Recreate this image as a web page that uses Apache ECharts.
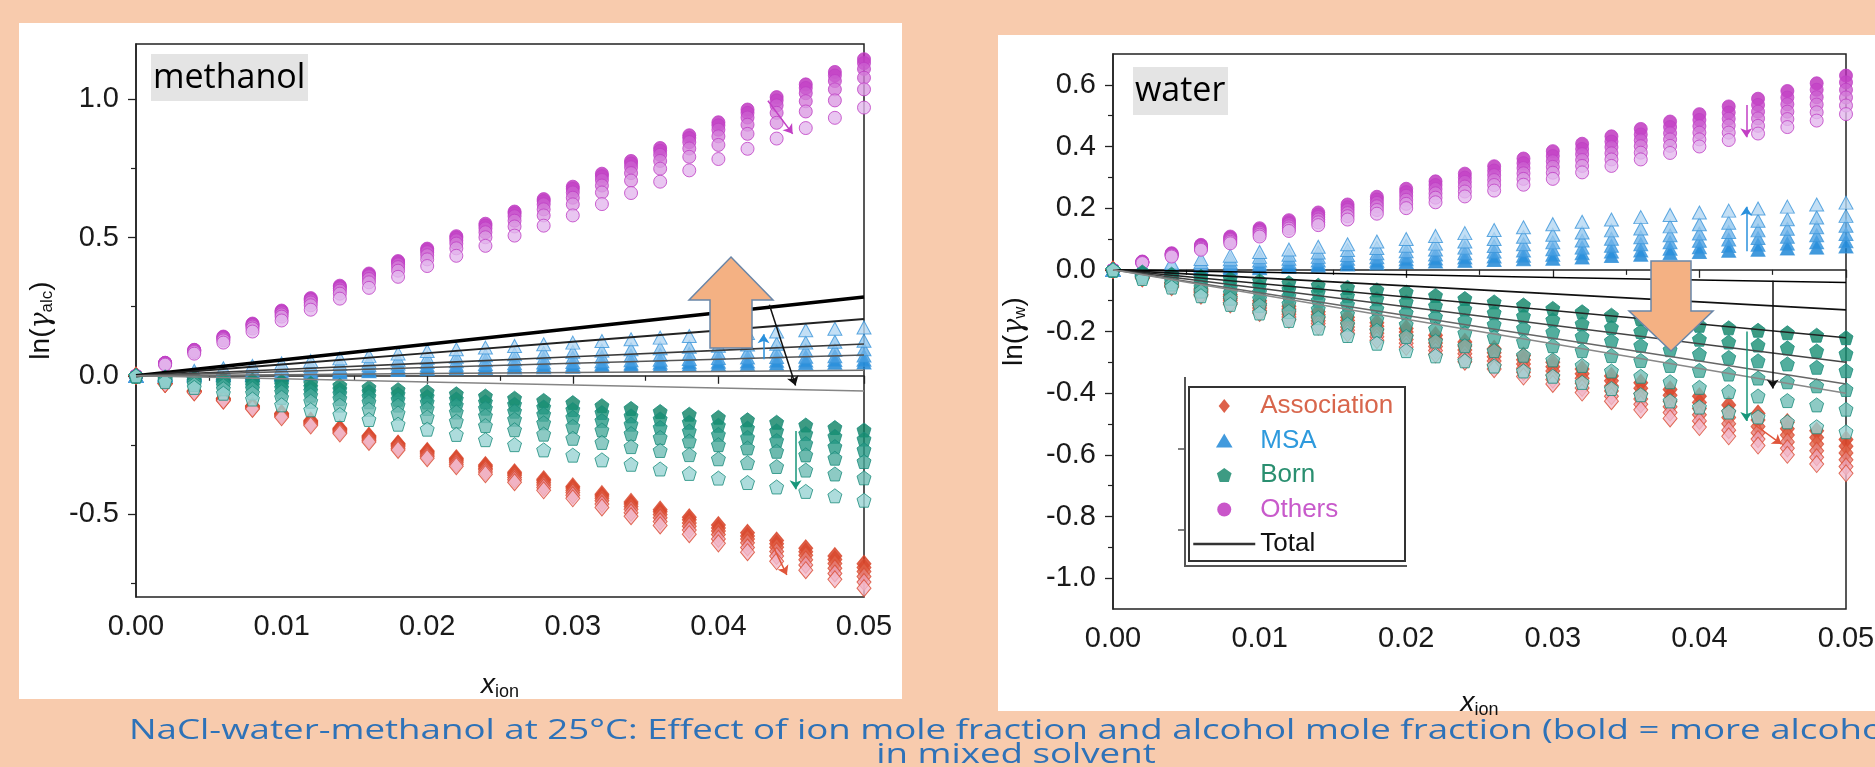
<!DOCTYPE html>
<html>
<head>
<meta charset="utf-8">
<script src="https://cdn.jsdelivr.net/npm/echarts@6/dist/echarts.min.js"></script>
<style>html,body{margin:0;padding:0;background:#F8CBAD;}#c{width:1875px;height:767px;}</style>
</head>
<body>
<div id="c"></div>
<script>
// ---------------- data ----------------
const xIon = [0,0.002,0.004,0.006,0.008,0.010,0.012,0.014,0.016,0.018,0.020,0.022,0.024,0.026,0.028,0.030,0.032,0.034,0.036,0.038,0.040,0.042,0.044,0.046,0.048,0.050];
const xTotal = [0,0.01,0.02,0.03,0.04,0.05];
const xTickLabels = ['0.00','0.01','0.02','0.03','0.04','0.05'];
const yTicksMeth = [-0.5,0,0.5,1.0];
const yMinorMeth = [-0.75,-0.25,0.25,0.75];
const yTicksWat = [-1.0,-0.8,-0.6,-0.4,-0.2,0,0.2,0.4,0.6];
const yMinorWat = [-0.9,-0.7,-0.5,-0.3,-0.1,0.1,0.3,0.5];

// methanol panel: ln(gamma_alc); levels ordered from most alcohol (bold) to least
const methAssoc = [
 [0,-0.027,-0.054,-0.081,-0.108,-0.135,-0.162,-0.190,-0.217,-0.245,-0.272,-0.298,-0.323,-0.349,-0.374,-0.400,-0.428,-0.456,-0.484,-0.512,-0.540,-0.568,-0.596,-0.624,-0.652,-0.680],
 [0,-0.027,-0.055,-0.082,-0.110,-0.137,-0.165,-0.193,-0.220,-0.248,-0.276,-0.302,-0.328,-0.354,-0.380,-0.406,-0.435,-0.464,-0.492,-0.521,-0.550,-0.579,-0.607,-0.636,-0.664,-0.693],
 [0,-0.028,-0.056,-0.084,-0.112,-0.140,-0.168,-0.196,-0.224,-0.252,-0.280,-0.307,-0.334,-0.360,-0.387,-0.414,-0.443,-0.473,-0.502,-0.532,-0.561,-0.590,-0.620,-0.649,-0.679,-0.708],
 [0,-0.029,-0.057,-0.086,-0.114,-0.143,-0.172,-0.200,-0.229,-0.257,-0.286,-0.313,-0.340,-0.368,-0.395,-0.422,-0.452,-0.483,-0.513,-0.544,-0.574,-0.604,-0.635,-0.665,-0.696,-0.726],
 [0,-0.029,-0.058,-0.088,-0.117,-0.146,-0.175,-0.204,-0.234,-0.263,-0.292,-0.320,-0.348,-0.376,-0.404,-0.432,-0.464,-0.495,-0.527,-0.558,-0.590,-0.621,-0.652,-0.684,-0.715,-0.746],
 [0,-0.030,-0.060,-0.090,-0.120,-0.150,-0.180,-0.209,-0.239,-0.268,-0.298,-0.327,-0.356,-0.385,-0.414,-0.443,-0.476,-0.508,-0.541,-0.573,-0.606,-0.638,-0.671,-0.703,-0.736,-0.768]
];
const methMSA = [
 [0,0.001,0.001,0.002,0.002,0.003,0.007,0.012,0.016,0.021,0.025,0.027,0.028,0.030,0.031,0.033,0.035,0.037,0.038,0.040,0.042,0.043,0.044,0.046,0.047,0.048],
 [0,0.001,0.002,0.004,0.005,0.006,0.011,0.016,0.020,0.025,0.030,0.032,0.034,0.036,0.038,0.040,0.042,0.044,0.047,0.049,0.051,0.052,0.054,0.055,0.057,0.058],
 [0,0.002,0.004,0.007,0.009,0.011,0.016,0.022,0.027,0.033,0.038,0.040,0.043,0.045,0.048,0.050,0.053,0.056,0.058,0.061,0.064,0.066,0.068,0.069,0.071,0.073],
 [0,0.004,0.008,0.011,0.015,0.019,0.025,0.031,0.038,0.044,0.050,0.053,0.056,0.060,0.063,0.066,0.069,0.073,0.076,0.080,0.083,0.086,0.088,0.091,0.093,0.096],
 [0,0.006,0.012,0.017,0.023,0.029,0.036,0.043,0.051,0.058,0.065,0.069,0.074,0.078,0.083,0.087,0.091,0.096,0.100,0.105,0.109,0.113,0.116,0.120,0.123,0.127],
 [0,0.009,0.018,0.027,0.036,0.045,0.054,0.063,0.072,0.081,0.090,0.096,0.102,0.108,0.114,0.120,0.126,0.132,0.138,0.144,0.150,0.155,0.160,0.165,0.170,0.175]
];
const methBorn = [
 [0,-0.004,-0.008,-0.012,-0.016,-0.020,-0.027,-0.035,-0.042,-0.050,-0.057,-0.065,-0.073,-0.081,-0.089,-0.097,-0.108,-0.118,-0.129,-0.139,-0.150,-0.159,-0.168,-0.178,-0.187,-0.196],
 [0,-0.006,-0.012,-0.019,-0.025,-0.031,-0.040,-0.049,-0.057,-0.066,-0.075,-0.084,-0.094,-0.103,-0.113,-0.122,-0.133,-0.145,-0.156,-0.168,-0.179,-0.189,-0.199,-0.209,-0.219,-0.229],
 [0,-0.009,-0.018,-0.026,-0.035,-0.044,-0.054,-0.064,-0.075,-0.085,-0.095,-0.106,-0.117,-0.128,-0.139,-0.150,-0.162,-0.175,-0.187,-0.200,-0.212,-0.223,-0.234,-0.245,-0.256,-0.267],
 [0,-0.012,-0.023,-0.035,-0.046,-0.058,-0.070,-0.082,-0.094,-0.106,-0.118,-0.131,-0.144,-0.157,-0.170,-0.183,-0.196,-0.209,-0.223,-0.236,-0.249,-0.261,-0.273,-0.286,-0.298,-0.310],
 [0,-0.016,-0.031,-0.047,-0.062,-0.078,-0.092,-0.106,-0.121,-0.135,-0.149,-0.164,-0.180,-0.195,-0.211,-0.226,-0.241,-0.256,-0.270,-0.285,-0.300,-0.314,-0.328,-0.341,-0.355,-0.369],
 [0,-0.021,-0.042,-0.063,-0.084,-0.105,-0.123,-0.140,-0.158,-0.175,-0.193,-0.212,-0.231,-0.249,-0.268,-0.287,-0.304,-0.320,-0.337,-0.353,-0.370,-0.386,-0.402,-0.418,-0.434,-0.450]
];
const methOthers = [
 [0,0.047,0.094,0.142,0.189,0.236,0.281,0.326,0.370,0.415,0.460,0.505,0.550,0.594,0.639,0.684,0.731,0.777,0.824,0.870,0.917,0.963,1.008,1.054,1.099,1.145],
 [0,0.047,0.093,0.140,0.186,0.233,0.277,0.322,0.366,0.411,0.455,0.499,0.543,0.588,0.632,0.676,0.722,0.768,0.814,0.860,0.906,0.951,0.996,1.041,1.086,1.131],
 [0,0.046,0.092,0.137,0.183,0.229,0.273,0.316,0.360,0.403,0.447,0.490,0.533,0.577,0.620,0.663,0.708,0.754,0.799,0.845,0.890,0.934,0.978,1.022,1.066,1.110],
 [0,0.044,0.089,0.133,0.178,0.222,0.265,0.308,0.350,0.393,0.436,0.478,0.519,0.561,0.602,0.644,0.688,0.733,0.777,0.822,0.866,0.908,0.951,0.993,1.036,1.078],
 [0,0.043,0.086,0.128,0.171,0.214,0.255,0.297,0.338,0.380,0.421,0.461,0.501,0.540,0.580,0.620,0.663,0.706,0.749,0.792,0.835,0.875,0.915,0.956,0.996,1.036],
 [0,0.040,0.080,0.120,0.160,0.200,0.239,0.279,0.318,0.358,0.397,0.434,0.470,0.507,0.543,0.580,0.621,0.661,0.702,0.743,0.784,0.821,0.858,0.896,0.933,0.970]
];
const methTotal = [
 [0,0.057,0.114,0.171,0.228,0.285],
 [0,0.041,0.082,0.123,0.164,0.205],
 [0,0.023,0.046,0.069,0.092,0.115],
 [0,0.015,0.030,0.045,0.060,0.075],
 [0,0.004,0.008,0.012,0.016,0.020],
 [0,-0.011,-0.022,-0.033,-0.044,-0.055]
];

// water panel: ln(gamma_w)
const watAssoc = [
 [0,-0.020,-0.040,-0.060,-0.080,-0.100,-0.118,-0.136,-0.154,-0.172,-0.190,-0.212,-0.234,-0.256,-0.278,-0.300,-0.322,-0.344,-0.366,-0.388,-0.410,-0.438,-0.466,-0.494,-0.522,-0.550],
 [0,-0.022,-0.043,-0.065,-0.086,-0.108,-0.127,-0.146,-0.164,-0.183,-0.202,-0.224,-0.247,-0.269,-0.292,-0.314,-0.337,-0.360,-0.384,-0.407,-0.430,-0.458,-0.487,-0.515,-0.544,-0.572],
 [0,-0.023,-0.046,-0.070,-0.093,-0.116,-0.136,-0.155,-0.175,-0.194,-0.214,-0.237,-0.260,-0.282,-0.305,-0.328,-0.352,-0.377,-0.401,-0.426,-0.450,-0.479,-0.508,-0.536,-0.565,-0.594],
 [0,-0.025,-0.050,-0.074,-0.099,-0.124,-0.144,-0.165,-0.185,-0.206,-0.226,-0.249,-0.272,-0.296,-0.319,-0.342,-0.368,-0.393,-0.419,-0.444,-0.470,-0.499,-0.528,-0.558,-0.587,-0.616],
 [0,-0.026,-0.053,-0.079,-0.106,-0.132,-0.153,-0.174,-0.196,-0.217,-0.238,-0.262,-0.285,-0.309,-0.332,-0.356,-0.383,-0.410,-0.436,-0.463,-0.490,-0.520,-0.549,-0.579,-0.608,-0.638],
 [0,-0.028,-0.056,-0.084,-0.112,-0.140,-0.162,-0.184,-0.206,-0.228,-0.250,-0.274,-0.298,-0.322,-0.346,-0.370,-0.398,-0.426,-0.454,-0.482,-0.510,-0.540,-0.570,-0.600,-0.630,-0.660]
];
const watMSA = [
 [0,0.001,0.002,0.003,0.004,0.005,0.009,0.013,0.017,0.021,0.025,0.027,0.029,0.032,0.034,0.036,0.040,0.045,0.049,0.054,0.058,0.062,0.065,0.069,0.072,0.076],
 [0,0.002,0.004,0.007,0.009,0.011,0.016,0.020,0.025,0.029,0.034,0.037,0.040,0.043,0.046,0.049,0.054,0.059,0.063,0.068,0.073,0.077,0.081,0.085,0.089,0.093],
 [0,0.004,0.008,0.012,0.016,0.020,0.025,0.030,0.036,0.041,0.046,0.050,0.054,0.059,0.063,0.067,0.072,0.078,0.083,0.089,0.094,0.098,0.103,0.107,0.112,0.116],
 [0,0.006,0.012,0.018,0.024,0.030,0.036,0.042,0.048,0.054,0.060,0.066,0.072,0.077,0.083,0.089,0.095,0.101,0.106,0.112,0.118,0.123,0.128,0.133,0.138,0.143],
 [0,0.008,0.017,0.025,0.034,0.042,0.049,0.056,0.064,0.071,0.078,0.085,0.092,0.100,0.107,0.114,0.121,0.128,0.134,0.141,0.148,0.153,0.159,0.164,0.170,0.175],
 [0,0.012,0.023,0.035,0.046,0.058,0.066,0.075,0.083,0.092,0.100,0.110,0.119,0.129,0.138,0.148,0.156,0.163,0.171,0.178,0.186,0.192,0.199,0.205,0.212,0.218]
];
const watBorn = [
 [0,-0.007,-0.014,-0.021,-0.028,-0.035,-0.042,-0.050,-0.057,-0.065,-0.072,-0.083,-0.093,-0.104,-0.114,-0.125,-0.136,-0.147,-0.158,-0.169,-0.180,-0.188,-0.196,-0.204,-0.212,-0.220],
 [0,-0.011,-0.021,-0.032,-0.042,-0.053,-0.063,-0.073,-0.084,-0.094,-0.104,-0.116,-0.127,-0.139,-0.150,-0.162,-0.175,-0.187,-0.200,-0.212,-0.225,-0.234,-0.244,-0.253,-0.263,-0.272],
 [0,-0.014,-0.029,-0.043,-0.058,-0.072,-0.085,-0.099,-0.112,-0.126,-0.139,-0.152,-0.164,-0.177,-0.189,-0.202,-0.216,-0.230,-0.245,-0.259,-0.273,-0.284,-0.295,-0.305,-0.316,-0.327],
 [0,-0.019,-0.037,-0.056,-0.074,-0.093,-0.110,-0.127,-0.143,-0.160,-0.177,-0.191,-0.205,-0.218,-0.232,-0.246,-0.262,-0.278,-0.294,-0.310,-0.326,-0.338,-0.351,-0.363,-0.376,-0.388],
 [0,-0.023,-0.046,-0.069,-0.092,-0.115,-0.135,-0.155,-0.176,-0.196,-0.216,-0.231,-0.246,-0.262,-0.277,-0.292,-0.310,-0.328,-0.345,-0.363,-0.381,-0.395,-0.409,-0.424,-0.438,-0.452],
 [0,-0.028,-0.056,-0.084,-0.112,-0.140,-0.164,-0.189,-0.213,-0.238,-0.262,-0.279,-0.295,-0.312,-0.328,-0.345,-0.365,-0.385,-0.405,-0.425,-0.445,-0.461,-0.477,-0.493,-0.509,-0.525]
];
const watOthers = [
 [0,0.027,0.054,0.081,0.108,0.135,0.161,0.186,0.212,0.237,0.263,0.287,0.312,0.336,0.361,0.385,0.409,0.433,0.457,0.481,0.505,0.530,0.555,0.580,0.605,0.630],
 [0,0.026,0.052,0.078,0.104,0.130,0.154,0.179,0.203,0.228,0.252,0.275,0.299,0.322,0.346,0.369,0.392,0.416,0.439,0.463,0.486,0.510,0.535,0.559,0.584,0.608],
 [0,0.025,0.050,0.075,0.100,0.125,0.148,0.171,0.194,0.217,0.240,0.262,0.285,0.307,0.330,0.352,0.375,0.398,0.420,0.443,0.466,0.490,0.513,0.537,0.560,0.584],
 [0,0.024,0.048,0.072,0.096,0.120,0.141,0.163,0.184,0.206,0.227,0.248,0.270,0.291,0.313,0.334,0.356,0.378,0.401,0.423,0.445,0.468,0.491,0.513,0.536,0.559],
 [0,0.023,0.046,0.068,0.091,0.114,0.134,0.154,0.174,0.194,0.214,0.234,0.254,0.275,0.295,0.315,0.337,0.358,0.380,0.402,0.423,0.445,0.467,0.489,0.511,0.533],
 [0,0.022,0.043,0.065,0.086,0.108,0.126,0.145,0.163,0.182,0.200,0.219,0.238,0.257,0.276,0.295,0.316,0.337,0.358,0.379,0.400,0.421,0.442,0.463,0.484,0.505]
];
const watTotal = [
 [0,-0.008,-0.016,-0.025,-0.033,-0.041],
 [0,-0.026,-0.052,-0.078,-0.104,-0.130],
 [0,-0.044,-0.088,-0.132,-0.176,-0.220],
 [0,-0.060,-0.120,-0.180,-0.240,-0.300],
 [0,-0.074,-0.148,-0.222,-0.296,-0.370],
 [0,-0.080,-0.160,-0.240,-0.320,-0.400]
];
const legendNames = ['Association','MSA','Born','Others','Total'];

// ---------------- styles ----------------
const PENT = 'path://M0,-10L9.5,-3.1L5.9,8.1L-5.9,8.1L-9.5,-3.1Z';
const DIAM = 'path://M0,-10L8,0L0,10L-8,0Z';
const TRI = 'path://M0,-9L9.5,7L-9.5,7Z';
const CIRC = 'path://M10,0A10,10,0,1,1,-10,0A10,10,0,1,1,10,0Z';
const assocFill = ['#D5391D','#DA4A2E','#DF6148','#E57F7A','#EC9FB0','#F2BACC'];
const msaFill   = ['#1381D5','#288EDC','#479FE2','#6CB1E8','#91C5EE','#B4D7F3'];
const bornFill  = ['#0D8264','#168E73','#289A86','#48A99A','#70BDB5','#99D3D3'];
const othFill   = ['#BC2CBC','#C444C7','#CB5FCF','#D37DD8','#DB9BE2','#E4B8EE'];
const totMeth = [{c:'#000',w:3.6},{c:'#222',w:2},{c:'#3a3a3a',w:1.6},{c:'#555',w:1.5},{c:'#6e6e6e',w:1.5},{c:'#858585',w:1.5}];
const totWat  = [{c:'#000',w:1.6},{c:'#111',w:1.6},{c:'#222',w:1.5},{c:'#444',w:1.5},{c:'#666',w:1.5},{c:'#888',w:1.5}];

const series = [];
function addScatter(name, levels, g, symbol, size, fills, border, z) {
  levels.forEach((lv, k) => {
    series.push({
      type: 'scatter', name, xAxisIndex: g, yAxisIndex: g * 2,
      symbol, symbolSize: size, z: z,
      itemStyle: { color: fills[k], borderColor: border, borderWidth: 1 },
      emphasis: { disabled: true },
      data: lv.map((v, i) => [xIon[i], v])
    });
  });
}
addScatter('Association', methAssoc, 0, 'diamond', [14, 17], assocFill, '#D94A30', 2);
addScatter('MSA', methMSA, 0, 'triangle', [14, 13], msaFill, '#3A95DA', 3);
addScatter('Born', methBorn, 0, PENT, 14, bornFill, '#1A8C7C', 5);
addScatter('Others', methOthers, 0, 'circle', 13, othFill, '#BF3FC4', 4);
addScatter('Association', watAssoc, 1, 'diamond', [14, 17], assocFill, '#D94A30', 2);
addScatter('MSA', watMSA, 1, 'triangle', [14, 13], msaFill, '#3A95DA', 3);
addScatter('Born', watBorn, 1, PENT, 14, bornFill, '#1A8C7C', 5);
addScatter('Others', watOthers, 1, 'circle', 13, othFill, '#BF3FC4', 4);

function arrow(p1, p2, color, curv) {
  return [{ coord: p1, lineStyle: { color: color, width: 1.5, curveness: curv || 0, type: 'solid' } }, { coord: p2 }];
}
const methArrows = [
  arrow([0.0434, 0.995], [0.0451, 0.875], '#C23FC4', 0.45),
  arrow([0.0431, 0.06], [0.0431, 0.15], '#2A90DC', 0),
  arrow([0.0435, 0.257], [0.0453, -0.035], '#111', -0.3),
  arrow([0.0453, -0.2], [0.0453, -0.41], '#17967A', 0),
  arrow([0.0436, -0.6], [0.0447, -0.72], '#E0553A', 0.6)
];
const watArrows = [
  arrow([0.0432, 0.535], [0.0432, 0.43], '#C23FC4', 0),
  arrow([0.0432, 0.06], [0.0432, 0.205], '#2A90DC', 0),
  arrow([0.0450, -0.035], [0.0450, -0.385], '#111', 0),
  arrow([0.0432, -0.2], [0.0432, -0.49], '#17967A', 0),
  arrow([0.0437, -0.5], [0.0456, -0.565], '#E0553A', 0.6)
];

function addTotals(lines, g, styles, arrows) {
  lines.forEach((lv, k) => {
    const s = {
      type: 'line', name: 'Total', xAxisIndex: g, yAxisIndex: g * 2,
      showSymbol: false, symbol: 'none', z: 6, silent: true,
      lineStyle: { color: styles[k].c, width: styles[k].w },
      itemStyle: { color: '#333' },
      emphasis: { disabled: true },
      data: lv.map((v, i) => [xTotal[i], v])
    };
    if (k === 0) {
      s.markLine = { silent: true, symbol: ['none', 'arrow'], symbolSize: 9, label: { show: false },
        emphasis: { disabled: true }, animation: false, data: arrows, z: 7 };
    }
    series.push(s);
  });
}
addTotals(methTotal, 0, totMeth, methArrows);
addTotals(watTotal, 1, totWat, watArrows);

const AX = '#222';
const labelFont = { fontFamily: 'Liberation Sans', fontSize: 29, color: '#1a1a1a' };
function xAxisCfg(g, nameGap) {
  return {
    type: 'value', gridIndex: g, min: 0, max: 0.05, interval: 0.01,
    axisLine: { show: true, lineStyle: { color: AX, width: 1.5 } },
    axisTick: { show: true, inside: false, length: 8, lineStyle: { color: AX, width: 1.3 } },
    minorTick: { show: true, splitNumber: 2, length: 5, lineStyle: { color: AX, width: 1.2 } },
    splitLine: { show: false }, minorSplitLine: { show: false },
    axisLabel: Object.assign({ margin: 15, formatter: v => xTickLabels[Math.round(v / 0.01)] }, labelFont),
    name: '{x|x}{s|ion}', nameLocation: 'middle', nameGap: nameGap,
    nameTextStyle: { rich: { x: { fontFamily: 'Liberation Sans', fontStyle: 'italic', fontSize: 28, color: '#111' },
                             s: { fontFamily: 'Liberation Sans', fontSize: 18, color: '#111', verticalAlign: 'bottom', padding: [14, 0, 0, 0] } } }
  };
}
function yAxisMain(g, min, max, ticks, nameRich, nameGap) {
  return {
    type: 'value', gridIndex: g, min: min, max: max,
    axisLine: { show: true, lineStyle: { color: AX, width: 1.5 } },
    axisTick: { show: true, inside: false, length: 8, customValues: ticks, lineStyle: { color: AX, width: 1.3 } },
    splitLine: { show: false },
    axisLabel: Object.assign({ margin: 17, customValues: ticks, formatter: v => v.toFixed(1) }, labelFont),
    name: nameRich, nameLocation: 'middle', nameGap: nameGap, nameRotate: 90,
    nameTextStyle: { rich: {
      a: { fontFamily: 'Liberation Sans', fontSize: 28, color: '#111' },
      g: { fontFamily: 'DejaVu Serif', fontStyle: 'italic', fontSize: 27, color: '#111' },
      s: { fontFamily: 'Liberation Sans', fontSize: 17, color: '#111', verticalAlign: 'bottom', padding: [12, 0, 0, 0] } } }
  };
}
function yAxisMinor(g, min, max, ticks) {
  return {
    type: 'value', gridIndex: g, min: min, max: max, position: 'left',
    axisLine: { show: false }, splitLine: { show: false }, axisLabel: { show: false },
    axisTick: { show: true, inside: false, length: 5, customValues: ticks, lineStyle: { color: AX, width: 1.2 } }
  };
}

const titleFont = 'Open Sans';
const option = {
  backgroundColor: '#F8CBAD',
  animation: false,
  grid: [
    { left: 136, top: 44, width: 728, height: 553, show: true, borderColor: AX, borderWidth: 1.5, backgroundColor: 'rgba(0,0,0,0)', containLabel: false, outerBoundsMode: 'none' },
    { left: 1113, top: 54, width: 733, height: 555, show: true, borderColor: AX, borderWidth: 1.5, backgroundColor: 'rgba(0,0,0,0)', containLabel: false, outerBoundsMode: 'none' }
  ],
  xAxis: [xAxisCfg(0, 72), xAxisCfg(1, 78)],
  yAxis: [
    yAxisMain(0, -0.8, 1.2, yTicksMeth, '{a|ln(}{g|γ}{s|alc}{a|)}', 80),
    yAxisMinor(0, -0.8, 1.2, yMinorMeth),
    yAxisMain(1, -1.1, 0.7, yTicksWat, '{a|ln(}{g|γ}{s|w}{a|)}', 84),
    yAxisMinor(1, -1.1, 0.7, yMinorWat)
  ],
  legend: {
    show: true, orient: 'vertical', left: 1192, top: 393, padding: 0,
    itemWidth: 62, itemHeight: 14, itemGap: 8.5, selectedMode: false, symbolKeepAspect: true,
    textStyle: { fontFamily: 'Liberation Sans', fontSize: 26, lineHeight: 25 },
    data: [
      { name: legendNames[0], icon: DIAM, itemStyle: { color: '#D5391D', borderWidth: 0 }, textStyle: { color: '#D8664C' } },
      { name: legendNames[1], icon: TRI, itemStyle: { color: '#1381D5', borderWidth: 0 }, textStyle: { color: '#2E9ADD' } },
      { name: legendNames[2], icon: PENT, itemStyle: { color: '#0D8264', borderWidth: 0 }, textStyle: { color: '#2A8F70' } },
      { name: legendNames[3], icon: CIRC, itemStyle: { color: '#BC2CBC', borderWidth: 0 }, textStyle: { color: '#C85ACB' } },
      { name: legendNames[4], itemStyle: { opacity: 0 }, lineStyle: { color: '#333', width: 2.5 }, textStyle: { color: '#111' } }
    ]
  },
  graphic: [
    // white panels of the two pasted figures
    { type: 'rect', z: -10, silent: true, shape: { x: 19, y: 23, width: 883, height: 676 }, style: { fill: '#fff' } },
    { type: 'rect', z: -10, silent: true, shape: { x: 998, y: 35, width: 877, height: 676 }, style: { fill: '#fff' } },
    // panel labels
    { type: 'rect', z: 1, silent: true, shape: { x: 151, y: 54, width: 157, height: 47 }, style: { fill: '#E4E4E4' } },
    { type: 'text', z: 2, silent: true, x: 153, y: 78, style: { text: 'methanol', font: '34px "Open Sans"', fill: '#000', textVerticalAlign: 'middle' } },
    { type: 'rect', z: 1, silent: true, shape: { x: 1133, y: 67, width: 95, height: 48 }, style: { fill: '#E4E4E4' } },
    { type: 'text', z: 2, silent: true, x: 1135, y: 91, style: { text: 'water', font: '34px "Open Sans"', fill: '#000', textVerticalAlign: 'middle' } },
    // legend frame
    { type: 'rect', z: 1, silent: true, shape: { x: 1189, y: 387, width: 216, height: 174 }, style: { fill: '#fff', stroke: '#333', lineWidth: 2 } },
    { type: 'polyline', z: 1, silent: true, shape: { points: [[1185, 377], [1185, 566], [1407, 566]] }, style: { stroke: '#555', lineWidth: 2, fill: null } },
    { type: 'line', z: 1, silent: true, shape: { x1: 1178, y1: 449, x2: 1185, y2: 449 }, style: { stroke: '#555', lineWidth: 1.5 } },
    { type: 'line', z: 1, silent: true, shape: { x1: 1178, y1: 530, x2: 1185, y2: 530 }, style: { stroke: '#555', lineWidth: 1.5 } },
    // big orange arrows
    { type: 'polygon', z: 20, silent: true, shape: { points: [[731, 257], [773, 300], [752, 300], [752, 348], [710, 348], [710, 300], [689, 300]] },
      style: { fill: '#F4B183', stroke: '#6A86A8', lineWidth: 1.5 } },
    { type: 'polygon', z: 20, silent: true, shape: { points: [[1651, 261], [1691, 261], [1691, 311], [1713, 311], [1671, 351], [1629, 311], [1651, 311]] },
      style: { fill: '#F4B183', stroke: '#6A86A8', lineWidth: 1.5 } },
    // caption
    { type: 'text', z: 30, silent: true, x: 129, y: 731, scaleX: 1.31, scaleY: 1,
      style: { text: 'NaCl-water-methanol at 25°C: Effect of ion mole fraction and alcohol mole fraction (bold = more alcohol)', font: '28px "' + titleFont + '"', fill: '#2E72B8', textVerticalAlign: 'middle' } },
    { type: 'text', z: 30, silent: true, x: 1016, y: 755, scaleX: 1.31, scaleY: 1,
      style: { text: 'in mixed solvent', font: '28px "' + titleFont + '"', fill: '#2E72B8', textAlign: 'center', textVerticalAlign: 'middle' } }
  ],
  series: series
};
const chart = echarts.init(document.getElementById('c'), null, { renderer: 'canvas' });
chart.setOption(option);
</script>
</body>
</html>
